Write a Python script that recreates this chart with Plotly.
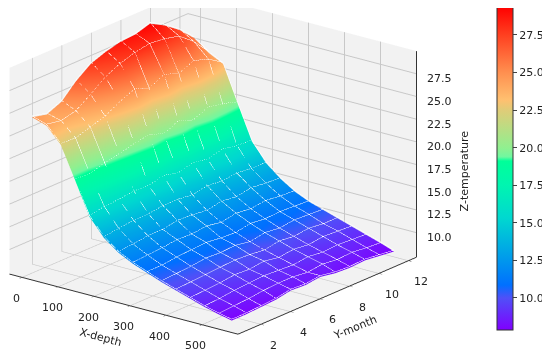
import plotly.graph_objects as go

months = [1,2,3,4,5,6,7,8,9,10,11,12]
depths = [5,45,85,125,165,205,245,285,325,365,405,445,485,525,560]
temperature = [
 [24.6,24.2,24.9,26.5,27.7,28.3,28.7,28.8,29.3,28.4,27.2,25.6],
 [24.1,23.8,24.2,25.3,26.5,27.3,27.8,28.1,27.9,27.5,26.2,24.4],
 [22.4,22.3,22.8,23.3,24.2,24.9,24.3,25.1,24.5,25.2,24.7,23.6],
 [18.9,18.8,19.3,19.6,20.0,20.3,19.7,20.4,19.8,20.5,20.2,19.7],
 [15.3,15.6,15.7,15.9,15.8,16.2,15.8,16.2,15.9,16.3,16.0,15.9],
 [13.4,13.6,13.8,13.8,14.0,14.0,13.8,14.1,13.9,14.1,13.9,13.9],
 [12.2,12.3,12.5,12.5,12.8,12.7,12.5,12.8,12.6,12.9,12.7,12.6],
 [11.4,11.5,11.6,11.8,11.7,11.9,11.6,11.9,11.7,11.9,11.7,11.6],
 [10.8,10.8,11.0,11.1,11.2,11.0,10.9,11.2,11.0,11.1,11.0,10.9],
 [10.2,10.3,10.4,10.6,10.5,10.6,10.3,10.6,10.4,10.6,10.5,10.4],
 [9.7,9.8,9.9,10.0,10.1,10.0,9.8,10.1,9.9,10.1,9.9,9.9],
 [9.2,9.3,9.4,9.6,9.5,9.7,9.4,9.6,9.4,9.6,9.5,9.4],
 [8.7,8.8,9.0,9.1,9.2,9.1,9.0,9.2,9.0,9.1,9.0,8.9],
 [8.3,8.4,8.5,8.7,8.8,8.8,8.6,8.8,8.6,8.7,8.5,8.4],
 [8.0,8.0,8.1,8.2,8.5,8.4,8.6,8.3,8.2,8.3,8.1,7.9],
]
x_ticks = [0,100,200,300,400,500]
y_ticks = [2,4,6,8,10,12]
z_ticks = [10,12.5,15,17.5,20,22.5,25,27.5]
rainbow = [[0,"#8000ff"],[0.099,"#5050f8"],[0.139,"#0070ff"],[0.201,"#0090f0"],[0.347,"#00d8d0"],
           [0.449,"#00f5b0"],[0.523,"#00ff99"],[0.536,"#70f8a0"],[0.563,"#90f090"],[0.681,"#e0cc78"],
           [0.712,"#ffc070"],[0.796,"#ff9050"],[0.913,"#ff4020"],[1,"#ff0000"]]

FONT = "DejaVu Sans"
TEXT = "#222"
X_RANGE = [-35, 600]
Y_RANGE = [0.45, 12.55]
Z_RANGE = [7.3, 30]
def axis(ticks, rng):
    return dict(title=dict(text=""), tickvals=ticks, range=rng, showticklabels=False,
                showbackground=True, backgroundcolor="#f2f2f2",
                gridcolor="#c8c8c8", gridwidth=2, showline=True, linecolor="#333", linewidth=2,
                ticks="outside", tickcolor="#333", ticklen=4, zeroline=False, showspikes=False)

temp_by_month = [list(r) for r in zip(*temperature)]
traces = [go.Surface(
    x=depths, y=months, z=temp_by_month,
    colorscale=rainbow, cmin=7.87, cmax=29.36,
    lighting=dict(ambient=1, diffuse=0, specular=0, roughness=1, fresnel=0),
    hoverinfo="skip",
    colorbar=dict(x=489/550, xanchor="left", xpad=0, y=1-160.5/358, yanchor="middle", ypad=0,
                  len=323, lenmode="pixels",
                  thickness=16, tickvals=z_ticks, tickformat=".1f", ticks="outside", ticklen=4,
                  tickfont=dict(size=11, color=TEXT), outlinecolor="#333", outlinewidth=1),
)]
mx, my, mz = [], [], []
for j, m in enumerate(months):
    for i, d in enumerate(depths):
        mx.append(d); my.append(m); mz.append(temperature[i][j] + 0.15)
    mx.append(None); my.append(None); mz.append(None)
for i, d in enumerate(depths):
    for j, m in enumerate(months):
        mx.append(d); my.append(m); mz.append(temperature[i][j] + 0.15)
    mx.append(None); my.append(None); mz.append(None)
traces.append(go.Scatter3d(x=mx, y=my, z=mz, mode="lines", hoverinfo="skip", showlegend=False,
                           line=dict(color="rgba(255,255,255,0.22)", width=1)))
xr, yr = X_RANGE[1], Y_RANGE[1]
traces.append(go.Scatter3d(x=[xr, xr], y=[yr, yr], z=Z_RANGE, mode="lines", hoverinfo="skip", showlegend=False,
                           line=dict(color="#333", width=2)))
tx, ty, tz = [], [], []
for z in z_ticks:
    tx += [xr, xr + 9, None]; ty += [yr, yr - 0.18, None]; tz += [z, z, None]
traces.append(go.Scatter3d(x=tx, y=ty, z=tz, mode="lines", hoverinfo="skip", showlegend=False,
                           line=dict(color="#333", width=2)))

def note(x, y, z, text, dx, dy, angle=0):
    return dict(x=x, y=y, z=z, text=text, showarrow=False, xshift=dx, yshift=-dy, textangle=angle,
                font=dict(size=11, color=TEXT, family=FONT))
notes = [note(xr, yr, z, f"{z:.1f}", 23, 5) for z in z_ticks]
notes.append(note(xr, yr, sum(Z_RANGE)/2, "Z-temperature", 48, 17, -90))
notes += [note(x, Y_RANGE[0], Z_RANGE[0], str(x), -6, 21) for x in x_ticks]
notes += [note(X_RANGE[1], y, Z_RANGE[0], str(y), 13, 21) for y in y_ticks]
notes.append(note(300, Y_RANGE[0], Z_RANGE[0], "X-depth", -29, 32, 15))
notes.append(note(X_RANGE[1], 7, Z_RANGE[0], "Y-month", 21, 35, -22))

fig = go.Figure(traces)
zaxis = axis(z_ticks, Z_RANGE)
zaxis.update(ticks="", showline=False)
R = 3.0
S = 1.62
fig.update_layout(
    width=550, height=358, margin=dict(l=0, r=0, t=0, b=0), paper_bgcolor="white",
    font=dict(family=FONT, size=11),
    scene=dict(
        domain=dict(x=[0, 0.745], y=[0, 1]),
        aspectmode="manual", aspectratio=dict(x=S, y=S, z=0.755*S),
        xaxis=axis(x_ticks, X_RANGE),
        yaxis=axis(y_ticks, Y_RANGE),
        zaxis=zaxis,
        annotations=notes,
        camera=dict(eye=dict(x=0.589*R, y=-0.754*R, z=0.294*R), center=dict(x=0, y=0, z=-0.145),
                    up=dict(x=0, y=0, z=1), projection=dict(type="orthographic")),
    ),
)
fig.write_html("out.html")
